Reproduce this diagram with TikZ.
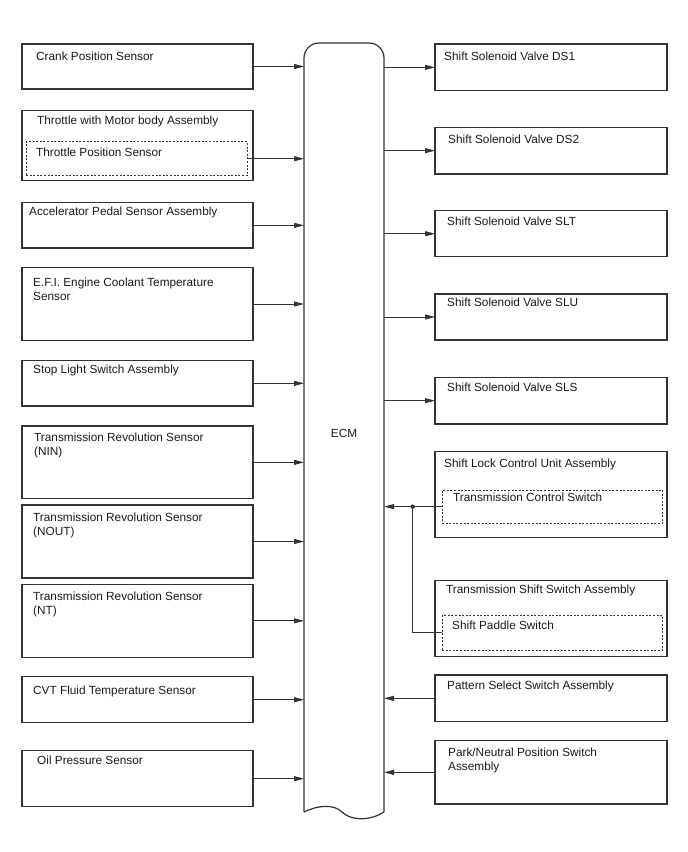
\documentclass[tikz,border=0pt]{standalone}
\usepackage{fontspec}
\setmainfont{Liberation Sans}
\usetikzlibrary{arrows.meta, positioning, calc}
\definecolor{cline}{HTML}{333333}
\definecolor{ctext}{HTML}{1A1A1A}
\tikzset{
  unit/.style={draw=cline, line width=1.1pt, inner sep=0pt, outer sep=0pt, anchor=north west},
  part/.style={draw=cline, line width=0.9pt, dash pattern=on 2pt off 1.6pt, inner sep=0pt, outer sep=0pt, anchor=north west},
  lbl/.style={inner sep=0pt, anchor=north west, align=left, text=ctext, font=\fontsize{11.8}{14}\selectfont},
  sig/.style={draw=cline, line width=0.8pt, -{Triangle[length=10pt,width=5pt]}},
  wire/.style={draw=cline, line width=0.8pt},
}

\begin{document}
\begin{tikzpicture}[x=1pt, y=-1pt]
  \useasboundingbox (0,0) rectangle (688,852);
  % ECM
  \node[inner sep=0pt, outer sep=0pt, minimum width=80pt, minimum height=769pt, anchor=north west] (ecm) at (304,43) {};
  \draw[cline, line width=1.2pt, rounded corners=15pt] (ecm.south west) -- (ecm.north west) -- (ecm.north east) -- (ecm.south east);
  \draw[cline, line width=1.2pt] (ecm.south west) .. controls (318,805) and (334,804) .. (342,812) .. controls (350,820) and (368,822) .. (ecm.south east);
  \node[lbl, anchor=center] (ecm-t) at (344,433) {ECM};
  % left column
  \foreach \nm/\yt/\yb/\dx/\dy/\txt in {
      crank/44/89/14/16.7/{Crank Position Sensor},
      thr/110.7/180.7/15/13.3/{Throttle with Motor body Assembly},
      acc/202.7/248/7/13/{Accelerator Pedal Sensor Assembly},
      efi/267.3/340.7/11/18.7/{E.F.I. Engine Coolant Temperature\\Sensor},
      stop/360.7/406/11/12.6/{Stop Light Switch Assembly},
      nin/426/498.7/12/15.3/{Transmission Revolution Sensor\\(NIN)},
      nout/505/578/11/16.3/{Transmission Revolution Sensor\\(NOUT)},
      nt/584.3/657.3/11/16.4/{Transmission Revolution Sensor\\(NT)},
      cvt/676.7/722.7/11/18/{CVT Fluid Temperature Sensor},
      oil/750.7/806.7/15/14/{Oil Pressure Sensor}}{
    \pgfmathsetmacro{\hh}{\yb-\yt}
    \pgfmathsetmacro{\ty}{\dy-8.5}
    \node[unit, minimum width=231pt, minimum height=\hh pt] (\nm) at (22,\yt) {};
    \node[lbl] (\nm-t) at ([xshift=\dx pt, yshift=-\ty pt]\nm.north west) {\txt};
  }
  % right column
  \foreach \nm/\yt/\yb/\dx/\dy/\txt in {
      ds1/44/90.7/9/16/{Shift Solenoid Valve DS1},
      ds2/127.3/174/13/16/{Shift Solenoid Valve DS2},
      slt/210.7/256.7/12/15/{Shift Solenoid Valve SLT},
      slu/294/340/12/12.7/{Shift Solenoid Valve SLU},
      sls/377.3/424/12/14/{Shift Solenoid Valve SLS},
      slk/451.7/537.7/9/15.6/{Shift Lock Control Unit Assembly},
      tss/580.7/656.7/11/12.6/{Transmission Shift Switch Assembly},
      pat/675/721.7/12/14.7/{Pattern Select Switch Assembly},
      pnp/740.7/804/13/15.6/{Park/Neutral Position Switch\\Assembly}}{
    \pgfmathsetmacro{\hh}{\yb-\yt}
    \pgfmathsetmacro{\ty}{\dy-8.5}
    \node[unit, minimum width=232pt, minimum height=\hh pt] (\nm) at (435,\yt) {};
    \node[lbl] (\nm-t) at ([xshift=\dx pt, yshift=-\ty pt]\nm.north west) {\txt};
  }
  % sub-assemblies
  \node[part, minimum width=221.3pt, minimum height=34pt] (tps) at (26,141.7) {};
  \node[lbl] (tps-t) at ([xshift=10pt, yshift=-6.5pt]tps.north west) {Throttle Position Sensor};
  \node[part, minimum width=220.7pt, minimum height=33.3pt] (tcs) at (442,490) {};
  \node[lbl] (tcs-t) at ([xshift=11pt, yshift=-3.2pt]tcs.north west) {Transmission Control Switch};
  \node[part, minimum width=220.7pt, minimum height=34.3pt] (sps) at (442,615.7) {};
  \node[lbl] (sps-t) at ([xshift=10pt, yshift=-4.8pt]sps.north west) {Shift Paddle Switch};
  % signals
  \foreach \nm in {crank,acc,efi,stop,nin,nout,nt,cvt,oil}
    \draw[sig] (\nm.east) -- (\nm.east -| ecm.west);
  \draw[sig] (tps.east) -- (tps.east -| ecm.west);
  \foreach \nm in {ds1,ds2,slt,slu,sls}
    \draw[sig] (ecm.east |- \nm.west) -- (\nm.west);
  \foreach \nm in {pat,pnp}
    \draw[sig] (\nm.west) -- (\nm.west -| ecm.east);
  \coordinate (jn) at ([xshift=-29.3pt]tcs.west);
  \draw[sig] (tcs.west) -- (tcs.west -| ecm.east);
  \draw[wire] (sps.west) -| (jn);
  \fill[cline] (jn) circle (2.2pt);
\end{tikzpicture}
\end{document}
